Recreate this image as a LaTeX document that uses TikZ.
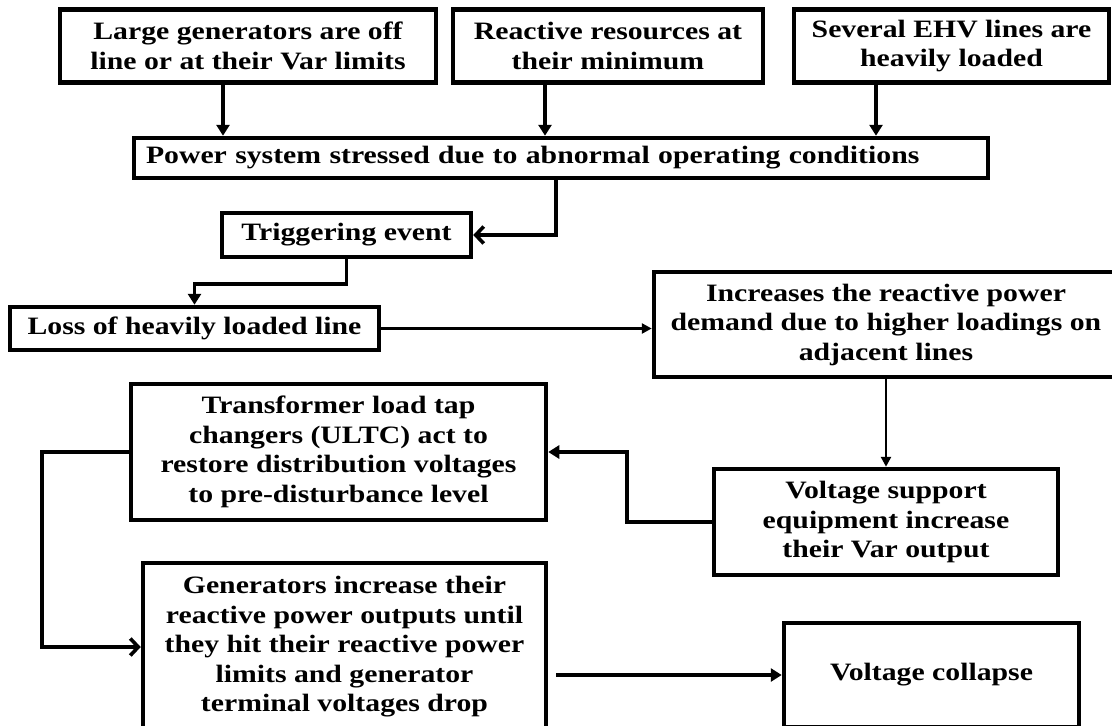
\documentclass[tikz,border=0pt]{standalone}
\usepackage{fontspec}
\setmainfont{Liberation Serif}[FakeStretch=1.19]
\usetikzlibrary{arrows.meta}

\tikzset{
  box/.style={draw, line width=4.5pt, inner sep=0pt, align=center, fill=white,
    font=\fontsize{25}{29.5}\selectfont\bfseries},
  conn/.style={line width=3.6pt, -{Triangle[length=11pt,width=13pt]}},
  barb/.style={line width=3.6pt, -{Straight Barb[length=8pt,width=17pt,line width=3.6pt]}},
  thin/.style={line width=2.6pt, -{Triangle[length=10pt,width=10pt]}},
}

\begin{document}
\begin{tikzpicture}[x=1pt, y=-1pt]
  \useasboundingbox (0,0) rectangle (1112,726);

  % causes
  \node[box, minimum width=376pt, minimum height=73pt] (gens) at (248,46)
    {Large generators are off\\line or at their Var limits};
  \node[box, minimum width=310pt, minimum height=73pt] (res) at (608,46)
    {Reactive resources at\\their minimum};
  \node[box, minimum width=315pt, minimum height=73pt] (ehv) at (951.5,46)
    {Several EHV lines are\\heavily loaded};

  % stressed system
  \node[box, text width=830pt, inner xsep=12pt, minimum height=40pt, align=left] (stress) at (561,158)
    {Power system stressed due to abnormal operating conditions};

  \node[box, minimum width=249pt, minimum height=44pt] (trig) at (346.5,235)
    {Triggering event};
  \node[box, minimum width=369pt, minimum height=43pt] (loss) at (194.5,328.5)
    {Loss of heavily loaded line};
  \node[box, minimum width=464pt, minimum height=105pt] (demand) at (886,324.5)
    {Increases the reactive power\\demand due to higher loadings on\\adjacent lines};
  \node[box, minimum width=344pt, minimum height=106pt] (vsup) at (886,522)
    {Voltage support\\equipment increase\\their Var output};
  \node[box, minimum width=415pt, minimum height=136pt] (ultc) at (338.5,452)
    {Transformer load tap\\changers (ULTC) act to\\restore distribution voltages\\to pre-disturbance level};
  \node[box, minimum width=403pt, minimum height=168pt] (genq) at (344.5,647)
    {Generators increase their\\reactive power outputs until\\they hit their reactive power\\limits and generator\\terminal voltages drop};
  \node[box, minimum width=295pt, minimum height=104pt] (collapse) at (931.5,675)
    {Voltage collapse};

  % connectors
  \draw[conn] ([xshift=-25pt]gens.south) -- ([xshift=-25pt]gens.south |- stress.north);
  \draw[conn] ([xshift=-63pt]res.south) -- ([xshift=-63pt]res.south |- stress.north);
  \draw[conn] ([xshift=-75.5pt]ehv.south) -- ([xshift=-75.5pt]ehv.south |- stress.north);
  \draw[barb] ([xshift=-5pt]stress.south) |- (trig.east);
  \draw[conn] (trig.south) -- ++(0,25) -| (loss.north);
  \draw[thin] (loss.east) -- (loss.east -| demand.west);
  \draw[thin] (demand.south) -- (vsup.north);
  \draw[conn] (vsup.west) -- ++(-85,0) |- (ultc.east);
  \draw[barb] (ultc.west) -- ++(-87,0) |- (genq.west);
  \draw[conn] ([xshift=8pt]genq.east |- collapse.west) -- (collapse.west);
\end{tikzpicture}
\end{document}
